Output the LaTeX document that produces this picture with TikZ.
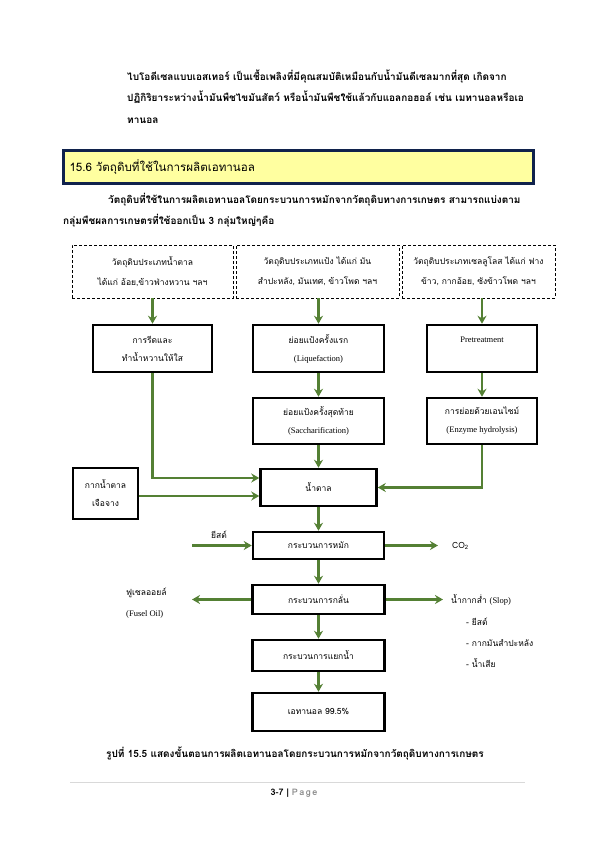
\documentclass[tikz,border=0pt]{standalone}
\usepackage{fontspec}
\setmainfont{Liberation Serif}
\newfontfamily\thai[Script=Thai]{Loma}
\usetikzlibrary{arrows.meta}
\definecolor{flowgreen}{RGB}{84,128,52}
\definecolor{headnavy}{RGB}{16,34,76}
\definecolor{headyellow}{RGB}{255,255,160}

\begin{document}
\begin{tikzpicture}[x=1pt,y=-1pt,
  proc/.style={draw, line width=2.5pt, inner sep=1pt, align=center,
    font=\thai\fontsize{8.5}{18}\selectfont},
  rawbox/.style={draw, dashed, dash pattern=on 3pt off 2pt, line width=0.8pt,
    minimum height=53pt, align=center, font=\thai\fontsize{8.5}{20}\selectfont},
  flow/.style={draw=flowgreen, line width=2.1pt, -{Stealth[length=8pt,width=9pt]}},
  para/.style={anchor=base west, inner sep=0pt, font=\thai\bfseries\fontsize{10}{12}\selectfont},
  side/.style={align=left, inner sep=0pt, font=\thai\fontsize{8.5}{21}\selectfont}]
  \useasboundingbox (0,0) rectangle (595,842);

  \node[para] (p1a) at (127,81) {ไบโอดีเซลแบบเอสเทอร์ เป็นเชื้อเพลิงที่มีคุณสมบัติเหมือนกับน้ำมันดีเซลมากที่สุด เกิดจาก};
  \node[para] (p1b) at (127,102) {ปฏิกิริยาระหว่างน้ำมันพืชไขมันสัตว์ หรือน้ำมันพืชใช้แล้วกับแอลกอฮอล์ เช่น เมทานอลหรือเอ};
  \node[para] (p1c) at (127,124) {ทานอล};

  \node (head) [draw=headnavy, fill=headyellow, line width=3.8pt, inner xsep=6pt,
    text width=458pt, minimum height=33pt, align=left,
    font=\thai\fontsize{11.6}{14}\selectfont] at (298.5,167) {15.6 วัตถุดิบที่ใช้ในการผลิตเอทานอล};

  \node[para] (p2a) at (108,204) {วัตถุดิบที่ใช้ในการผลิตเอทานอลโดยกระบวนการหมักจากวัตถุดิบทางการเกษตร สามารถแบ่งตาม};
  \node[para] (p2b) at (63,225) {กลุ่มพืชผลการเกษตรที่ใช้ออกเป็น 3 กลุ่มใหญ่ๆคือ};

  \node[rawbox, minimum width=161pt] (sugarsrc) at (152.5,271.5) {วัตถุดิบประเภทน้ำตาล\\ได้แก่ อ้อย,ข้าวฟ่างหวาน ฯลฯ};
  \node[rawbox, minimum width=163pt] (starchsrc) at (317.5,271.5) {วัตถุดิบประเภทแป้ง ได้แก่ มัน\\สำปะหลัง, มันเทศ, ข้าวโพด ฯลฯ};
  \node[rawbox, minimum width=153pt] (cellsrc) at (478.5,271.5) {วัตถุดิบประเภทเซลลูโลส ได้แก่ ฟาง\\ข้าว, กากอ้อย, ซังข้าวโพด ฯลฯ};

  \node[proc, minimum width=119pt, minimum height=47pt] (press) at (152.5,348.5) {การรีดและ\\ทำน้ำหวานให้ใส};
  \node[proc, minimum width=131pt, minimum height=47pt] (liq) at (318.5,348.5) {ย่อยแป้งครั้งแรก\\{\rmfamily (Liquefaction)}};
  \node[proc, minimum width=110pt, minimum height=47pt] (pretreat) at (482,348.5) {{\rmfamily Pretreatment}\\\mbox{}};
  \node[proc, minimum width=131pt, minimum height=46pt] (sacch) at (318.5,421) {ย่อยแป้งครั้งสุดท้าย\\{\rmfamily (Saccharification)}};
  \node[proc, minimum width=110pt, minimum height=46pt] (enzyme) at (482,421) {การย่อยด้วยเอนไซม์\\{\rmfamily (Enzyme hydrolysis)}};

  \node[proc, minimum width=116pt, minimum height=37pt] (sugar) at (318.5,487.5) {น้ำตาล};
  \node[proc, minimum width=65pt, minimum height=51pt] (molasses) at (105.5,493.5) {กากน้ำตาล\\เจือจาง};
  \node[proc, minimum width=131pt, minimum height=27pt] (ferment) at (318.5,545.5) {กระบวนการหมัก};
  \node[proc, minimum width=132pt, minimum height=29pt] (distil) at (318.5,599.5) {กระบวนการกลั่น};
  \node[proc, minimum width=132pt, minimum height=31pt] (dehyd) at (318.5,655.5) {กระบวนการแยกน้ำ};
  \node[proc, minimum width=132pt, minimum height=38pt] (ethanol) at (318.5,712) {เอทานอล 99.5\%};

  \coordinate (yeastin) at (192,545.5);
  \coordinate (co2out) at (438,545.5);
  \coordinate (fuselout) at (192,599.5);
  \coordinate (slopout) at (443,599.5);
  \node[side] (yeast) at (219,535) {ยีสต์};
  \node[side, anchor=west] (co2) at (452,546) {CO\textsubscript{2}};
  \node[side, anchor=west] (fusel) at (126,603.5) {ฟูเซลออยล์\\{\rmfamily (Fusel Oil)}};
  \node[side, anchor=west] (slop) at (451,600) {น้ำกากส่ำ {\rmfamily (Slop)}};
  \node[side, anchor=west] (slopitems) at (466,643) {- ยีสต์\\- กากมันสำปะหลัง\\- น้ำเสีย};

  \draw[flow] (sugarsrc.south) -- (press.north);
  \draw[flow] (liq.north |- starchsrc.south) -- (liq.north);
  \draw[flow] (pretreat.north |- cellsrc.south) -- (pretreat.north);
  \draw[flow] (liq) -- (sacch);
  \draw[flow] (pretreat) -- (enzyme);
  \draw[flow] (sacch) -- (sugar);
  \draw[flow] (press.south) |- ([yshift=9.5pt]sugar.west);
  \draw[flow] ([yshift=-2.5pt]molasses.east) -- ([yshift=-8.5pt]sugar.west);
  \draw[flow] (enzyme.south) |- (sugar.east);
  \draw[flow] (sugar) -- (ferment);
  \draw[flow] (yeastin) -- (ferment);
  \draw[flow] (ferment) -- (co2out);
  \draw[flow] (ferment) -- (distil);
  \draw[flow] (distil) -- (fuselout);
  \draw[flow] (distil) -- (slopout);
  \draw[flow] (distil) -- (dehyd);
  \draw[flow] (dehyd) -- (ethanol);

  \node[font=\thai\bfseries\fontsize{10}{12}\selectfont] (caption) at (295,753) {รูปที่ 15.5 แสดงขั้นตอนการผลิตเอทานอลโดยกระบวนการหมักจากวัตถุดิบทางการเกษตร};
  \draw[black!15, line width=0.6pt] (70,782) -- (525,782);
  \node[font=\thai\bfseries\fontsize{9}{11}\selectfont] (footer) at (294,793) {3-7 | \textcolor{black!45}{P\,a\,g\,e}};
\end{tikzpicture}
\end{document}
